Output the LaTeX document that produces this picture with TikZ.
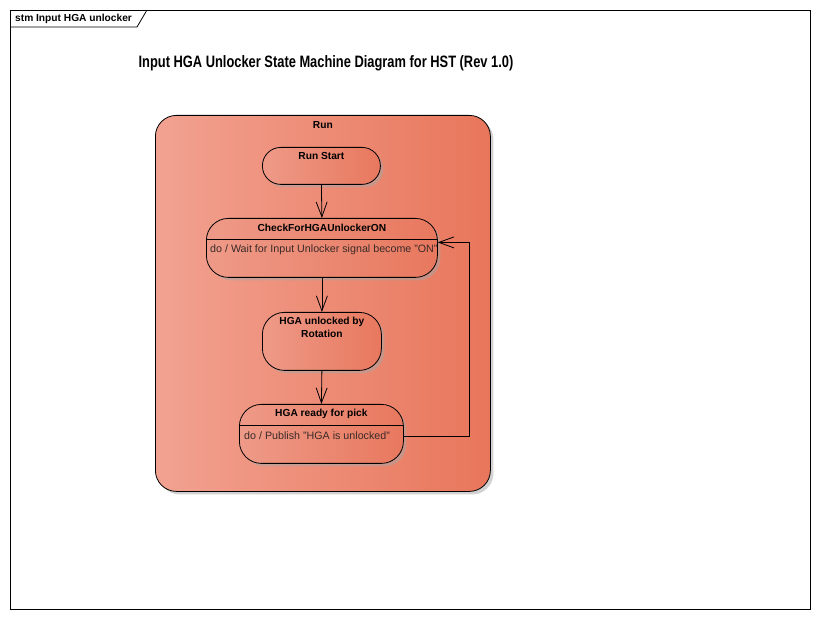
\documentclass[tikz,border=0pt]{standalone}
\usepackage{fontspec}
\setmainfont{Liberation Sans}
\usetikzlibrary{arrows.meta,calc,shadows}
\definecolor{runL}{HTML}{F2A291}
\definecolor{runR}{HTML}{E8765B}
\definecolor{stL}{HTML}{EE9A88}
\definecolor{stM}{HTML}{F1A898}
\definecolor{stR}{HTML}{E8785E}
\definecolor{bodytxt}{HTML}{3A2A28}
\begin{document}
\begin{tikzpicture}[x=1pt,y=-1pt,
  shad/.style={drop shadow={shadow xshift=3pt, shadow yshift=-3pt, fill=black!35, opacity=0.5}},
  runbox/.style={draw=black, line width=0.8pt, rounded corners=21pt, left color=runL, right color=runR, shad, inner sep=0pt, anchor=north west},
  statebox/.style={draw=black, line width=0.8pt, left color=stL, middle color=stM, right color=stR, shad, inner sep=0pt, anchor=north west},
  ttl/.style={font=\bfseries\fontsize{10.2}{11.5}\selectfont, inner sep=0pt, align=center},
  body/.style={font=\fontsize{10.7}{12}\selectfont, text=bodytxt, inner sep=0pt, anchor=west},
  arr/.style={draw=black, line width=0.8pt, -{Straight Barb[length=15pt,width=11pt,line width=0.8pt]}},
  sep/.style={draw=black, line width=0.8pt}
]
\useasboundingbox (0,0) rectangle (820,620);
\fill[white] (0,0) rectangle (820,620);
% frame
\draw[line width=0.8pt] (10,10) rectangle (810,609);
\draw[line width=0.8pt] (10,27) -- (137,27) -- (147,10);
\node[font=\bfseries\fontsize{10.2}{11.5}\selectfont, anchor=west, inner sep=0pt] (tab) at (15,18.5) {stm Input HGA unlocker};
% title
\node[inner sep=0pt] (title) at (326,63) {\scalebox{0.78}[1]{\bfseries\fontsize{16.5}{18}\selectfont Input HGA Unlocker State Machine Diagram for HST (Rev 1.0)}};
% Run composite
\node[runbox, minimum width=335pt, minimum height=376pt] (run) at (155,115) {};
\node[ttl] (runlbl) at ($(run.north)+(0,10)$) {Run};
% Run Start
\node[statebox, rounded corners=18.4pt, minimum width=118pt, minimum height=37pt] (rs) at (262,147) {};
\node[ttl] (rslbl) at ($(rs.north)+(0,9)$) {Run Start};
% CheckForHGAUnlockerON
\node[statebox, rounded corners=22pt, minimum width=231pt, minimum height=59pt] (chk) at (206,218) {};
\node[ttl] (chklbl) at ($(chk.north)+(0,10)$) {CheckForHGAUnlockerON};
\draw[sep] ($(chk.north west)+(0,21)$) -- ($(chk.north east)+(0,21)$);
\node[body] (chkbody) at ($(chk.north west)+(4,32)$) {do / Wait for Input Unlocker signal become "ON"};
% HGA unlocked by Rotation
\node[statebox, rounded corners=22pt, minimum width=119pt, minimum height=58pt] (unl) at (262,312) {};
\node[ttl] (unllbl) at ($(unl.north)+(0,15.5)$) {HGA unlocked by\\[1pt]Rotation};
% HGA ready for pick
\node[statebox, rounded corners=22pt, minimum width=164pt, minimum height=59pt] (rdy) at (239,404) {};
\node[ttl] (rdylbl) at ($(rdy.north)+(0,9.5)$) {HGA ready for pick};
\draw[sep] ($(rdy.north west)+(0,21)$) -- ($(rdy.north east)+(0,21)$);
\node[body] (rdybody) at ($(rdy.north west)+(5,32)$) {do / Publish "HGA is unlocked"};
% transitions
\draw[arr] (rs.south) -- (chk.north);
\draw[arr] (chk.south) -- (unl.north);
\draw[arr] (unl.south) -- (rdy.north);
\coordinate (loopR) at ($(rdy.east)+(66,3)$);
\draw[arr] ($(rdy.east)+(0,3)$) -- (loopR) |- ($(chk.east)+(0,-5.5)$);
\end{tikzpicture}
\end{document}
